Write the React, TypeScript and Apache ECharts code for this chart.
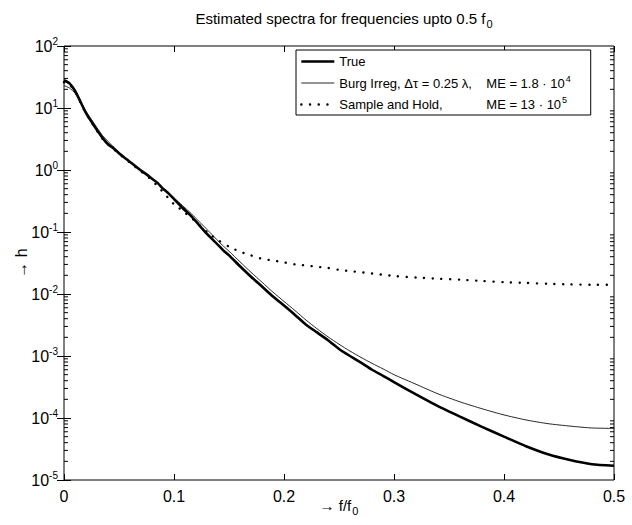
import React, { useEffect, useRef } from "react";
import * as echarts from "echarts";

const freq = [
  0, 0.005, 0.01, 0.015, 0.02, 0.025, 0.03, 0.035, 0.04, 0.045, 0.05, 0.055, 0.06, 0.065, 0.07, 0.075,
  0.08, 0.085, 0.09, 0.095, 0.1, 0.105, 0.11, 0.115, 0.12, 0.125, 0.13, 0.135, 0.14, 0.145, 0.15,
  0.16, 0.17, 0.18, 0.19, 0.2, 0.21, 0.22, 0.23, 0.24, 0.25, 0.26, 0.27, 0.28, 0.29, 0.3,
  0.32, 0.34, 0.36, 0.38, 0.4, 0.42, 0.44, 0.46, 0.48, 0.5,
];

const trueSpectrum = [
  28, 25, 19, 12.6, 8.3, 6.0, 4.4, 3.3, 2.6, 2.24, 1.86, 1.58, 1.35, 1.15, 0.98, 0.85,
  0.72, 0.62, 0.5, 0.42, 0.34, 0.275, 0.224, 0.186, 0.148, 0.117, 0.093, 0.076, 0.062, 0.05, 0.042,
  0.028, 0.019, 0.0132, 0.0091, 0.0065, 0.0046, 0.0032, 0.0024, 0.0018, 0.0013, 0.001, 7.8e-4, 6.0e-4, 4.8e-4, 3.8e-4,
  2.4e-4, 1.55e-4, 1.05e-4, 7.2e-5, 5.0e-5, 3.5e-5, 2.6e-5, 2.1e-5, 1.8e-5, 1.7e-5,
];

const burgSpectrum = [
  23, 21, 17.4, 12.6, 8.9, 6.5, 4.8, 3.6, 2.9, 2.35, 1.95, 1.62, 1.38, 1.17, 1.0, 0.87,
  0.74, 0.62, 0.51, 0.43, 0.355, 0.295, 0.245, 0.204, 0.166, 0.135, 0.11, 0.089, 0.072, 0.059, 0.049,
  0.033, 0.0224, 0.0155, 0.0107, 0.0076, 0.0054, 0.0038, 0.00275, 0.00204, 0.00155, 0.0012, 9.5e-4, 7.6e-4, 6.2e-4, 5.0e-4,
  3.5e-4, 2.45e-4, 1.82e-4, 1.41e-4, 1.12e-4, 9.3e-5, 8.1e-5, 7.4e-5, 6.9e-5, 6.8e-5,
];

const sampleHoldSpectrum = [
  26, 24, 18.6, 12.3, 8.1, 5.9, 4.3, 3.2, 2.6, 2.2, 1.82, 1.55, 1.32, 1.12, 0.95, 0.81,
  0.68, 0.55, 0.44, 0.35, 0.28, 0.24, 0.204, 0.174, 0.145, 0.12, 0.1, 0.085, 0.074, 0.065, 0.058,
  0.048, 0.042, 0.037, 0.0347, 0.0324, 0.03, 0.0288, 0.0275, 0.0263, 0.0245, 0.0234, 0.0224, 0.0214, 0.0204, 0.0195,
  0.0184, 0.0176, 0.017, 0.0162, 0.0155, 0.0151, 0.0146, 0.0143, 0.0141, 0.0141,
];

const seriesNames = ["True", "Burg", "SampleHold"];
const legendLabels: Record<string, string> = {
  True: "{n|True}",
  Burg: "{n|Burg Irreg, Δτ = 0.25 λ,}{m|ME = 1.8 · 10}{s|4}",
  SampleHold: "{n|Sample and Hold,}{m|ME = 13 · 10}{s|5}",
};

const xTicks = [0, 0.1, 0.2, 0.3, 0.4, 0.5];
const minorMultipliers = [2, 3, 4, 5, 6, 7, 8, 9];
const decades = [-5, -4, -3, -2, -1, 0, 1];

const FONT = "Liberation Sans, Arial, Helvetica, sans-serif";

const lineStyles: Record<string, any> = {
  True: { color: "#000", width: 2.6 },
  Burg: { color: "#111", width: 0.9 },
  SampleHold: { color: "#000", width: 2.4, type: [0.1, 8.6], cap: "round" },
};

export default function App() {
  const ref = useRef<HTMLDivElement>(null);
  useEffect(() => {
    if (!ref.current) return;
    const chart = echarts.init(ref.current, undefined, { renderer: "svg" });
    const toPairs = (ys: number[]) => freq.map((f, i) => [f, ys[i]]);
    const minorData: number[][] = [];
    decades.forEach((d) => minorMultipliers.forEach((m) => minorData.push([0, m * Math.pow(10, d)])));

    const xAxisBase = {
      type: "value",
      min: 0,
      max: 0.5,
      interval: 0.1,
      splitLine: { show: false },
      axisLine: { show: false },
      axisTick: { show: true, inside: true, length: 6, lineStyle: { color: "#000", width: 1 } },
    };
    const yAxisBase = {
      type: "log",
      logBase: 10,
      min: 1e-5,
      max: 100,
      interval: 1,
      splitLine: { show: false },
      axisLine: { show: false },
      axisTick: { show: true, inside: true, length: 7, lineStyle: { color: "#000", width: 1 } },
    };

    chart.setOption({
      animation: false,
      backgroundColor: "#fff",
      textStyle: { fontFamily: FONT },
      title: {
        text: "{t|Estimated spectra for frequencies upto 0.5 f}{u|0}",
        left: 339,
        top: 3,
        textAlign: "center",
        textStyle: {
          fontWeight: "normal",
          rich: {
            t: { fontSize: 15, color: "#000", fontFamily: FONT, fontWeight: "normal", lineHeight: 19 },
            u: { fontSize: 11, color: "#000", fontFamily: FONT, fontWeight: "normal", verticalAlign: "bottom", padding: [10, 0, 0, 1] },
          },
        },
      },
      grid: {
        left: 64, right: 18, top: 46, bottom: 45,
        outerBoundsMode: "none",
        containLabel: false,
        show: true, borderColor: "#000", borderWidth: 1,
      },
      legend: {
        data: seriesNames.map((n) => ({ name: n, lineStyle: lineStyles[n] })),
        orient: "vertical",
        left: 296,
        top: 50,
        width: 315,
        itemWidth: 33,
        itemHeight: 12,
        itemGap: 6,
        padding: [5, 20, 4, 4],
        borderColor: "#000",
        borderWidth: 1,
        backgroundColor: "#fff",
        itemStyle: { opacity: 0 },
        formatter: (name: string) => legendLabels[name],
        textStyle: {
          rich: {
            n: { fontSize: 13, color: "#000", fontFamily: FONT, width: 147 },
            m: { fontSize: 13, color: "#000", fontFamily: FONT },
            s: { fontSize: 9, color: "#000", fontFamily: FONT, verticalAlign: "top", padding: [0, 0, 9, 1] },
          },
        },
      },
      xAxis: [
        {
          ...xAxisBase,
          position: "bottom",
          name: "{a|→ f/f}{u|0}",
          nameLocation: "middle",
          nameGap: 15,
          nameMoveOverlap: false,
          nameTextStyle: {
            rich: {
              a: { fontSize: 15, color: "#000", fontFamily: FONT },
              u: { fontSize: 11, color: "#000", fontFamily: FONT, verticalAlign: "bottom", padding: [10, 0, 0, 1] },
            },
          },
          axisLabel: {
            show: true,
            color: "#000",
            fontSize: 16,
            margin: 8,
            fontFamily: FONT,
            formatter: (v: number) => (xTicks.some((t) => Math.abs(t - v) < 1e-9) ? String(Math.round(v * 10) / 10) : ""),
          },
        },
        { ...xAxisBase, position: "top", axisLabel: { show: false } },
      ],
      yAxis: [
        {
          ...yAxisBase,
          position: "left",
          name: "→ h",
          nameLocation: "middle",
          nameGap: 35,
          nameMoveOverlap: false,
          nameRotate: 90,
          nameTextStyle: { fontSize: 16, color: "#000", fontFamily: FONT },
          axisLabel: {
            show: true,
            margin: 6,
            formatter: (v: number) => `{b|10}{e|${Math.round(Math.log10(v))}}`,
            rich: {
              b: { fontSize: 16, color: "#000", fontFamily: FONT },
              e: { fontSize: 10, color: "#000", fontFamily: FONT, verticalAlign: "top", padding: [0, 0, 10, 0] },
            },
          },
        },
        { ...yAxisBase, position: "right", axisLabel: { show: false } },
      ],
      series: [
        {
          name: "True",
          type: "line",
          data: toPairs(trueSpectrum),
          showSymbol: false,
          symbol: "none",
          smooth: 0.2,
          lineStyle: lineStyles.True,
          itemStyle: { color: "#000" },
          z: 3,
        },
        {
          name: "Burg",
          type: "line",
          data: toPairs(burgSpectrum),
          showSymbol: false,
          symbol: "none",
          smooth: 0.2,
          lineStyle: lineStyles.Burg,
          itemStyle: { color: "#111" },
          z: 4,
        },
        {
          name: "SampleHold",
          type: "line",
          data: toPairs(sampleHoldSpectrum),
          showSymbol: false,
          symbol: "none",
          smooth: 0.2,
          lineStyle: lineStyles.SampleHold,
          itemStyle: { color: "#000" },
          z: 2,
        },
        {
          name: "minorTicks",
          type: "custom",
          silent: true,
          clip: false,
          data: minorData,
          encode: { x: 0, y: 1 },
          renderItem: (params: any, api: any) => {
            const v = api.value(1);
            const l = api.coord([0, v]);
            const r = api.coord([0.5, v]);
            return {
              type: "group",
              children: [
                { type: "line", shape: { x1: l[0], y1: l[1], x2: l[0] + 4, y2: l[1] }, style: { stroke: "#000", lineWidth: 1 } },
                { type: "line", shape: { x1: r[0] - 4, y1: r[1], x2: r[0], y2: r[1] }, style: { stroke: "#000", lineWidth: 1 } },
              ],
            };
          },
        },
      ],
    });
    return () => chart.dispose();
  }, []);
  return <div ref={ref} style={{ width: 632, height: 525, position: "absolute", left: 0, top: 0 }} />;
}
